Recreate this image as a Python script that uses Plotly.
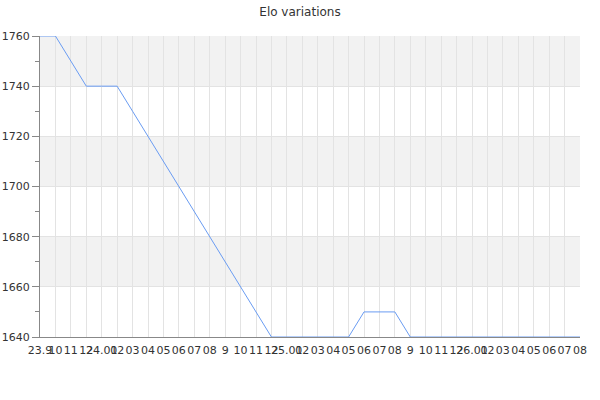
import plotly.graph_objects as go

tick_labels = ["23.9", "10", "11", "12", "24.01", "02", "03", "04", "05", "06", "07", "08",
               "9", "10", "11", "12", "25.01", "02", "03", "04", "05", "06", "07", "08",
               "9", "10", "11", "12", "26.01", "02", "03", "04", "05", "06", "07", "08"]
elo = [1760, 1760, 1750, 1740, 1740, 1740, 1730, 1720, 1710, 1700, 1690, 1680,
       1670, 1660, 1650, 1640, 1640, 1640, 1640, 1640, 1640, 1650, 1650, 1650,
       1640, 1640, 1640, 1640, 1640, 1640, 1640, 1640, 1640, 1640, 1640, 1640]
band_starts = [1660, 1700, 1740]
band_size = 20
y_range = [1640, 1760]

x = list(range(len(elo)))

fig = go.Figure()
fig.add_trace(go.Scatter(x=x, y=elo, mode="lines",
                         line=dict(color="#6a9cf2", width=1),
                         hoverinfo="x+y", showlegend=False))

shapes = []
for b in band_starts:
    shapes.append(dict(type="rect", xref="paper", yref="y", x0=0, x1=1,
                       y0=b, y1=b + band_size, fillcolor="#f2f2f2",
                       line=dict(width=0), layer="below"))

fig.update_layout(
    width=600, height=400,
    margin=dict(l=40, r=20, t=36, b=63, autoexpand=False),
    paper_bgcolor="white", plot_bgcolor="white",
    font=dict(family="DejaVu Sans", size=11, color="#333333"),
    title=dict(text="Elo variations", x=0.5, xanchor="center", y=0.97, yanchor="middle",
               font=dict(family="DejaVu Sans", size=12, color="#333333")),
    shapes=shapes,
    xaxis=dict(range=[0, len(elo) - 1], tickmode="array", tickvals=x, ticktext=tick_labels,
               tickangle=0, showgrid=True, gridcolor="#e3e3e3", gridwidth=1,
               showline=True, linecolor="#888888", linewidth=1, ticks="",
               ticklabelstandoff=3, automargin=False,
               zeroline=False, fixedrange=True, layer="above traces"),
    yaxis=dict(range=y_range, tickmode="linear", tick0=1640, dtick=20,
               showgrid=True, gridcolor="#e3e3e3", gridwidth=1,
               showline=True, linecolor="#888888", linewidth=1,
               ticks="outside", ticklen=7, tickcolor="#888888", automargin=False,
               minor=dict(ticks="outside", ticklen=4, dtick=10, tickcolor="#888888", showgrid=False),
               zeroline=False, fixedrange=True),
)

fig.write_html("out.html", config={"displayModeBar": False},
               post_script="document.body.style.margin='0';document.body.style.padding='0';")
